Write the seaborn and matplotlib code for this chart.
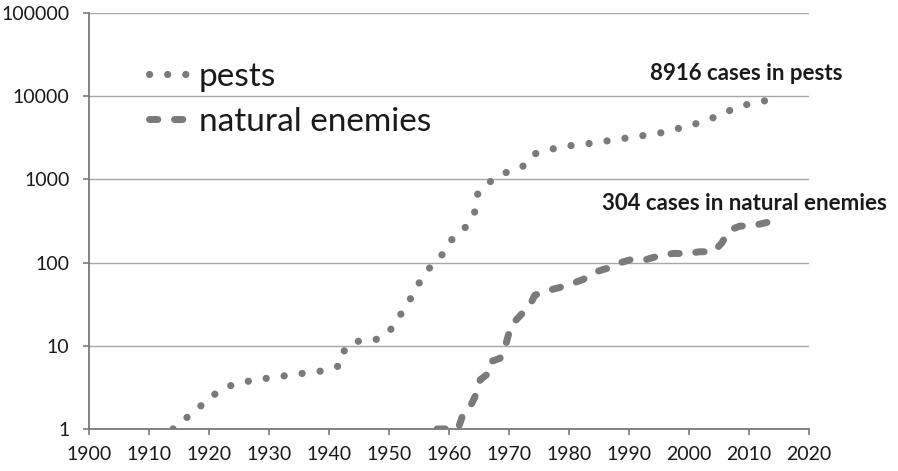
import matplotlib
matplotlib.use("Agg")
import matplotlib.pyplot as plt
import seaborn as sns
import pandas as pd

# Cumulative cases of pesticide resistance (log scale)
pest_years = [1914, 1916.4, 1918.8, 1921.2, 1923.9, 1926.9, 1929.9, 1933, 1936, 1939,
              1941.9, 1942.7, 1945.2, 1948.2, 1950.5, 1952.1, 1953.7, 1955.2, 1956.8,
              1958.8, 1960.6, 1962.8, 1964.3, 1964.8, 1966.7, 1969.4, 1972.2, 1974.2,
              1977.2, 1980.2, 1983.2, 1986.2, 1989.3, 1992.2, 1995.3, 1998.3, 2001.2,
              2004.2, 2007, 2009.9, 2013]
pest_cases = [1, 1.39, 1.94, 2.7, 3.4, 3.8, 4.1, 4.4, 4.7, 5.0,
              5.8, 9.6, 11.6, 12, 16.2, 24.8, 38, 60, 87,
              123, 195, 268, 408, 675, 923, 1200, 1410, 2020,
              2320, 2540, 2690, 2890, 3120, 3350, 3630, 4110, 4680,
              5570, 6830, 8050, 8916]

enemy_years = [1958, 1961.5, 1962.3, 1963.8, 1964.6, 1965.2, 1966.3, 1966.8, 1968.5,
               1969.3, 1969.9, 1970.4, 1971.8, 1973.5, 1974.3, 1976.8, 1978.8, 1980.7,
               1982.4, 1984.6, 1986.3, 1988.8, 1990.2, 1992.9, 1994.9, 1997.4, 1999.6,
               2001.8, 2004.1, 2005.4, 2006.8, 2008.5, 2010.4, 2013]
enemy_cases = [1, 1, 1.47, 2.03, 2.7, 3.9, 4.5, 6.4, 7.07,
               9.3, 13.5, 17.8, 22.8, 31, 40.6, 46.8, 51, 56.5,
               63, 78, 85, 101, 108, 109, 120, 129, 128,
               135, 135, 170, 246, 275, 275, 304]

x_ticks = list(range(1900, 2021, 10))
y_ticks = [1, 10, 100, 1000, 10000, 100000]
y_labels = ["1", "10", "100", "1000", "10000", "100000"]

sns.set_style("white")
plt.rcParams["font.family"] = ["Lato", "DejaVu Sans"]

fig = plt.figure(figsize=(8.98, 4.71), dpi=100)
ax = fig.add_axes([0.0991, 0.0892, 0.8018, 0.8832])

gray = "#7a7a7a"
df_p = pd.DataFrame({"year": pest_years, "cases": pest_cases})
df_e = pd.DataFrame({"year": enemy_years, "cases": enemy_cases})

sns.lineplot(data=df_p, x="year", y="cases", ax=ax, color=gray, lw=5.2,
             linestyle=(0, (0.01, 2.5)), dash_capstyle="round", label="pests")
sns.lineplot(data=df_e, x="year", y="cases", ax=ax, color=gray, lw=5.0,
             linestyle=(0, (1.2, 2.4)), dash_capstyle="round",
             label="natural enemies")

ax.set_yscale("log")
ax.set_xlim(1900, 2020)
ax.set_ylim(1, 100000)
ax.set_xticks(x_ticks)
ax.set_xticklabels([str(t) for t in x_ticks])
ax.set_yticks(y_ticks)
ax.set_yticklabels(y_labels)
ax.minorticks_off()
ax.set_xlabel("")
ax.set_ylabel("")

ax.grid(axis="y", color="#a8a8a8", lw=1.0)
ax.set_axisbelow(True)
for s in ["top", "right"]:
    ax.spines[s].set_visible(False)
for s in ["left", "bottom"]:
    ax.spines[s].set_color("#7a7a7a")
    ax.spines[s].set_linewidth(1.3)
ax.tick_params(axis="both", which="major", direction="out", length=4,
               width=1.2, color="#7a7a7a", labelsize=14, labelcolor="#1a1a1a",
               left=True, bottom=True)
ax.tick_params(axis="y", pad=10)
ax.tick_params(axis="x", pad=8)

ax.text(2009.5, 19000, "8916 cases in pests", ha="center", va="center",
        fontsize=16, fontweight="bold", color="#1a1a1a")
ax.text(2009.2, 520, "304 cases in natural enemies", ha="center", va="center",
        fontsize=16, fontweight="bold", color="#1a1a1a")

leg = ax.legend(loc="upper left", bbox_to_anchor=(0.083, 0.882), frameon=False,
                fontsize=24, handlelength=1.2, handletextpad=0.3,
                labelspacing=0.45, labelcolor="#1a1a1a", borderaxespad=0,
                borderpad=0)

fig.savefig("out.png", dpi=100, facecolor="white")
